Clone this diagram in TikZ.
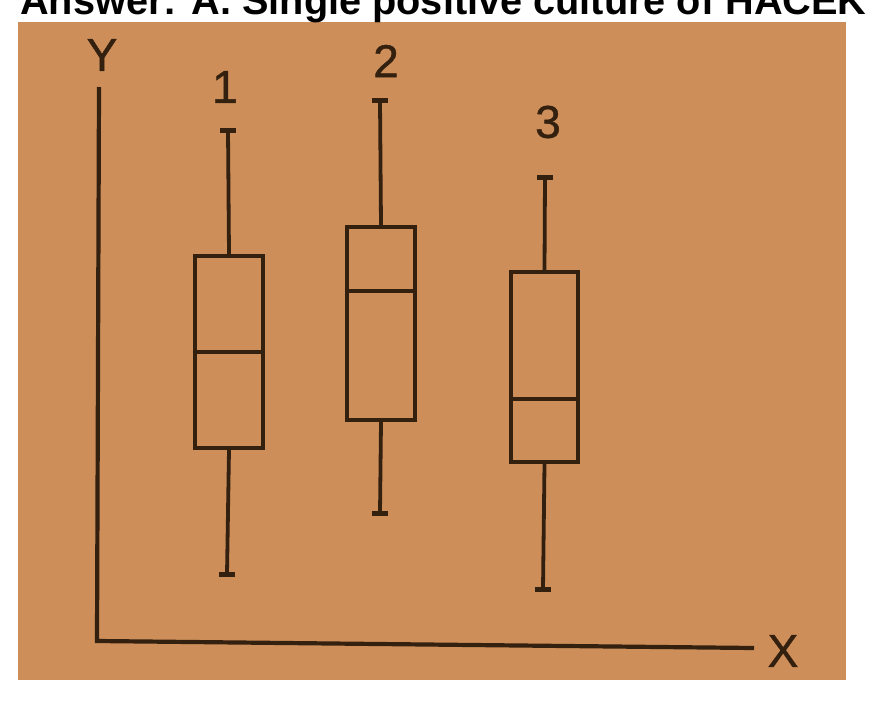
\documentclass[tikz,border=0pt]{standalone}
\usepackage{fontspec}
\setmainfont{Liberation Sans}
\newfontfamily\lblfont[FakeBold=1]{Liberation Sans}
\definecolor{bgor}{HTML}{CD8E5A}
\definecolor{ink}{HTML}{34200F}
\begin{document}
\begin{tikzpicture}[x=1pt,y=-1pt,
  boxst/.style={draw=ink,line width=3.8pt,inner sep=0pt,minimum width=68pt},
  wline/.style={draw=ink,line width=3.8pt},
  capst/.style={draw=ink,line width=5pt},
  axst/.style={draw=ink,line width=4.2pt},
  lbl/.style={text=ink,font=\lblfont\fontsize{46}{46}\selectfont,inner sep=0pt}]
\useasboundingbox (0,0) rectangle (869,706);
\fill[white] (0,0) rectangle (869,706);
\fill[bgor] (18,22) rectangle (846,680);
\node[anchor=base west,inner sep=0pt,font=\fontsize{39.7}{40}\selectfont\bfseries] (title) at (20,15) {Answer: A. Single positive culture of HACEK};
% axes
\coordinate (ytop) at (99,87);
\coordinate (orig) at (97,641);
\coordinate (xend) at (754,648);
\draw[axst] (ytop) -- (orig) -- (xend);
\node[lbl] (ylab) at (102,55) {Y};
\node[lbl] (xlab) at (783,651) {X};
% box 1
\node[boxst,minimum height=192pt] (b1) at (229,352) {};
\coordinate (t1) at (228,130); \coordinate (u1) at (227,574);
\draw[wline] (b1.north) -- (t1);
\draw[wline] (b1.south) -- (u1);
\draw[capst] ([xshift=-8pt]t1) -- ([xshift=8pt]t1);
\draw[capst] ([xshift=-8pt]u1) -- ([xshift=8pt]u1);
\draw[wline] (b1.west |- 0,352) -- (b1.east |- 0,352);
\node[lbl] (n1) at (225,87) {1};
% box 2
\node[boxst,minimum height=193pt] (b2) at (381,323.5) {};
\coordinate (t2) at (380,101); \coordinate (u2) at (380,513);
\draw[wline] (b2.north) -- (t2);
\draw[wline] (b2.south) -- (u2);
\draw[capst] ([xshift=-8pt]t2) -- ([xshift=8pt]t2);
\draw[capst] ([xshift=-8pt]u2) -- ([xshift=8pt]u2);
\draw[wline] (b2.west |- 0,291) -- (b2.east |- 0,291);
\node[lbl] (n2) at (386,61) {2};
% box 3
\node[boxst,minimum height=190pt,minimum width=67pt] (b3) at (544.5,367) {};
\coordinate (t3) at (545,177); \coordinate (u3) at (543,589);
\draw[wline] (b3.north) -- (t3);
\draw[wline] (b3.south) -- (u3);
\draw[capst] ([xshift=-8pt]t3) -- ([xshift=8pt]t3);
\draw[capst] ([xshift=-8pt]u3) -- ([xshift=8pt]u3);
\draw[wline] (b3.west |- 0,399) -- (b3.east |- 0,399);
\node[lbl] (n3) at (548,122) {3};
\end{tikzpicture}
\end{document}
